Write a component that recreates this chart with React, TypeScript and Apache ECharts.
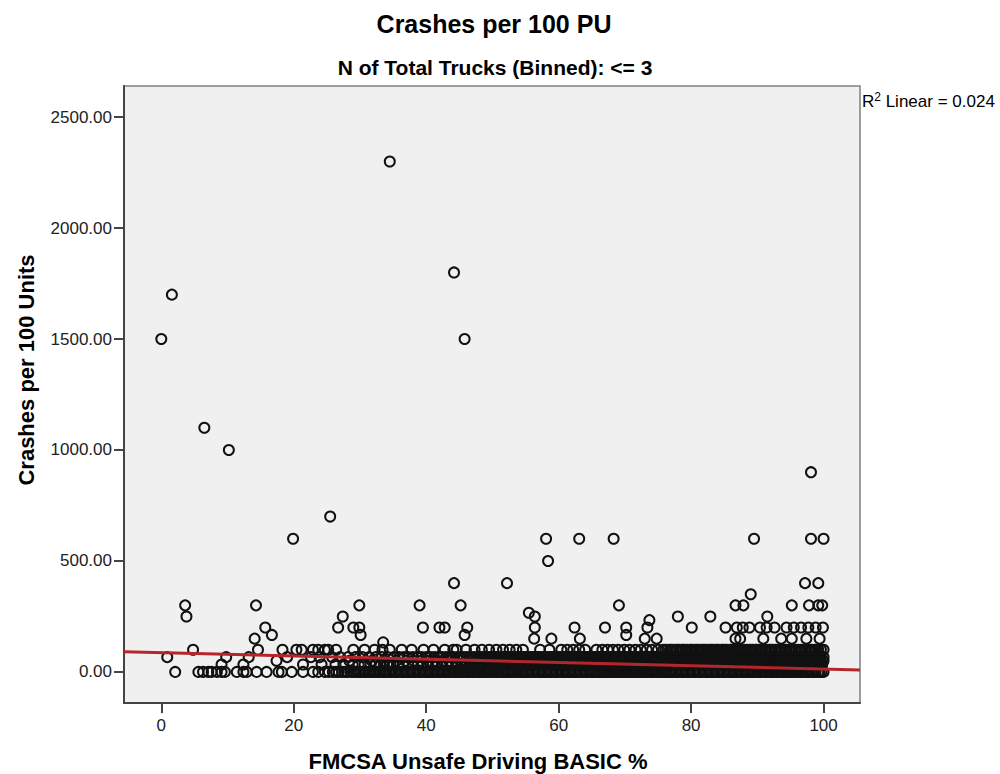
import React, { useEffect, useRef } from "react";
import * as echarts from "echarts";

// ---- Data ----
const xTicks = [0, 20, 40, 60, 80, 100];
const yTicks = [0, 500, 1000, 1500, 2000, 2500];
const X_MIN = -5.63;
const X_MAX = 105.5;
const Y_MIN = -140;
const Y_MAX = 2640;

// Crash rates with three trucks or fewer take a small set of discrete values
const bandLevels = [0, 33.33, 50, 66.67, 100];

const band0X = [
  2.1, 5.6, 6.3, 7.1, 7.6, 8.4, 9.1, 9.6, 11.4, 12.4, 12.9, 14.4, 15.9, 17.7, 18.2, 19.7, 21.4, 22.9, 23.7, 24.7, 25.3, 25.9,
  26.4, 26.8, 27.3, 27.7, 28.1, 28.6, 29.0, 29.4, 29.8,
  30.1, 30.5, 30.7, 31.0, 31.4, 31.6, 31.9, 32.3, 32.5, 32.8,
  33.1, 33.5, 33.7, 34.0, 34.4, 34.6, 34.9, 35.3, 35.5, 35.8,
  36.2, 36.4, 36.7, 37.1, 37.3, 37.6, 38.0, 38.2, 38.5, 38.9,
  39.1, 39.4, 39.8, 40.0, 40.3, 40.7, 40.9, 41.2, 41.6, 41.8,
  42.1, 42.5, 42.7, 43.0, 43.4, 43.6, 43.9, 44.3, 44.5, 44.8,
  45.2, 45.4, 45.7, 46.1, 46.3, 46.6, 47.0, 47.2, 47.5, 47.9,
  48.1, 48.4, 48.8, 49.0, 49.3, 49.7, 49.9, 50.2, 50.6, 50.8,
  51.1, 51.5, 51.7, 52.0, 52.4, 52.6, 52.9, 53.3, 53.5, 53.8,
  54.2, 54.4, 54.7, 55.1, 55.3, 55.6, 56.0, 56.2, 56.5, 56.9,
  57.1, 57.4, 57.8, 58.0, 58.3, 58.7, 58.9, 59.2, 59.6, 59.8,
  60.1, 60.5, 60.7, 61.0, 61.4, 61.6, 61.9, 62.3, 62.5, 62.8,
  63.2, 63.4, 63.7, 64.1, 64.3, 64.6, 65.0, 65.2, 65.5, 65.9,
  66.1, 66.4, 66.8, 67.0, 67.3, 67.7, 67.9, 68.2, 68.6, 68.8,
  69.1, 69.5, 69.7, 70.0, 70.4, 70.6, 70.9, 71.3, 71.5, 71.8,
  72.2, 72.4, 72.7, 73.1, 73.3, 73.6, 74.0, 74.2, 74.5, 74.9,
  75.1, 75.4, 75.8, 76.0, 76.3, 76.7, 76.9, 77.2, 77.6, 77.8,
  78.1, 78.5, 78.7, 79.0, 79.4, 79.6, 79.9, 80.3, 80.5, 80.8,
  81.2, 81.4, 81.7, 82.1, 82.3, 82.6, 83.0, 83.2, 83.5, 83.9,
  84.1, 84.4, 84.8, 85.0, 85.3, 85.7, 85.9, 86.2, 86.6, 86.8,
  87.1, 87.5, 87.7, 88.0, 88.4, 88.6, 88.9, 89.3, 89.5, 89.8,
  90.2, 90.4, 90.7, 91.1, 91.3, 91.6, 92.0, 92.2, 92.5, 92.9,
  93.1, 93.4, 93.8, 94.0, 94.3, 94.7, 94.9, 95.2, 95.6, 95.8,
  96.1, 96.5, 96.7, 97.0, 97.4, 97.6, 97.9, 98.3, 98.5, 98.8,
  99.2, 99.4, 99.7, 100,
];

const band33X = [
  9.1, 12.4, 21.4, 24.2, 26.3, 27.5, 28.9, 29.8, 30.7, 31.6, 32.4, 33.0, 33.6, 34.1, 34.6, 35.0, 35.8, 36.5, 37.3, 38.0,
  38.7, 39.5, 40.2, 40.9, 41.7, 42.4, 43.1, 43.9, 44.6, 45.3, 46.0, 46.6, 47.2, 47.8,
  48.2, 48.5, 48.8, 49.2, 49.4, 49.7, 50.1, 50.3, 50.6, 51.0,
  51.2, 51.5, 51.8, 52.2, 52.4, 52.7, 53.1, 53.3, 53.6, 54.0,
  54.2, 54.5, 54.8, 55.2, 55.4, 55.7, 56.1, 56.3, 56.6, 57.0,
  57.2, 57.5, 57.8, 58.2, 58.4, 58.7, 59.1, 59.3, 59.6, 60.0,
  60.2, 60.5, 60.8, 61.2, 61.4, 61.7, 62.1, 62.3, 62.6, 63.0,
  63.2, 63.5, 63.8, 64.2, 64.4, 64.7, 65.1, 65.3, 65.6, 66.0,
  66.2, 66.5, 66.8, 67.2, 67.4, 67.7, 68.1, 68.3, 68.6, 69.0,
  69.2, 69.5, 69.8, 70.2, 70.4, 70.7, 71.1, 71.3, 71.6, 72.0,
  72.2, 72.5, 72.8, 73.2, 73.4, 73.7, 74.1, 74.3, 74.6, 75.0,
  75.2, 75.5, 75.8, 76.2, 76.4, 76.7, 77.1, 77.3, 77.6, 78.0,
  78.2, 78.5, 78.8, 79.2, 79.4, 79.7, 80.1, 80.3, 80.6, 81.0,
  81.2, 81.5, 81.8, 82.2, 82.4, 82.7, 83.1, 83.3, 83.6, 84.0,
  84.2, 84.5, 84.8, 85.2, 85.4, 85.7, 86.1, 86.3, 86.6, 87.0,
  87.2, 87.5, 87.8, 88.2, 88.4, 88.7, 89.1, 89.3, 89.6, 90.0,
  90.2, 90.5, 90.8, 91.2, 91.4, 91.7, 92.1, 92.3, 92.6, 93.0,
  93.2, 93.5, 93.8, 94.2, 94.4, 94.7, 95.1, 95.3, 95.6, 96.0,
  96.2, 96.5, 96.8, 97.2, 97.4, 97.7, 98.1, 98.3, 98.6, 99.0,
  99.2, 99.5, 99.8,
];

const band50X = [
  17.4, 28.4, 31.8, 33.7, 35.5, 36.9, 38.1, 39.2, 40.3, 41.4, 42.5, 43.5, 44.4, 45.2, 46.0, 46.8, 47.5, 48.2, 48.9, 49.5,
  50.1, 50.7, 51.3,
  51.6, 52.0, 52.3, 52.7, 53.0, 53.4, 53.7, 54.1, 54.4, 54.8,
  55.1, 55.5, 55.8, 56.2, 56.5, 56.9, 57.2, 57.6, 57.9, 58.3,
  58.6, 59.0, 59.3, 59.7, 60.0, 60.4, 60.7, 61.1, 61.4, 61.8,
  62.1, 62.5, 62.8, 63.2, 63.5, 63.9, 64.2, 64.6, 64.9, 65.3,
  65.6, 66.0, 66.3, 66.7, 67.0, 67.4, 67.7, 68.1, 68.4, 68.8,
  69.1, 69.5, 69.8, 70.2, 70.5, 70.9, 71.2, 71.6, 71.9, 72.3,
  72.6, 73.0, 73.3, 73.7, 74.0, 74.4, 74.7, 75.1, 75.4, 75.8,
  76.1, 76.5, 76.8, 77.2, 77.5, 77.9, 78.2, 78.6, 78.9, 79.3,
  79.6, 80.0, 80.3, 80.7, 81.0, 81.4, 81.7, 82.1, 82.4, 82.8,
  83.1, 83.5, 83.8, 84.2, 84.5, 84.9, 85.2, 85.6, 85.9, 86.3,
  86.6, 87.0, 87.3, 87.7, 88.0, 88.4, 88.7, 89.1, 89.4, 89.8,
  90.1, 90.5, 90.8, 91.2, 91.5, 91.9, 92.2, 92.6, 92.9, 93.3,
  93.6, 94.0, 94.3, 94.7, 95.0, 95.4, 95.7, 96.1, 96.4, 96.8,
  97.1, 97.5, 97.8, 98.2, 98.5, 98.9, 99.2, 99.6, 100,
];

const band67X = [
  0.9, 9.8, 13.2, 19.0, 22.6, 23.9, 25.8, 27.0, 28.2, 29.3, 30.4, 31.4, 32.4, 33.3, 34.2, 35.1, 35.9, 36.6, 37.3, 38.0,
  38.7, 39.3, 40.0, 40.6, 41.2, 41.8, 42.4, 43.0, 43.6, 44.1, 44.7, 45.2, 45.7, 46.2, 46.7, 47.2, 47.7,
  48.0, 48.3, 48.7, 48.9, 49.2, 49.6, 49.8, 50.1, 50.5, 50.7,
  51.0, 51.3, 51.7, 51.9, 52.2, 52.6, 52.8, 53.1, 53.5, 53.7,
  54.0, 54.3, 54.7, 54.9, 55.2, 55.6, 55.8, 56.1, 56.5, 56.7,
  57.0, 57.3, 57.7, 57.9, 58.2, 58.6, 58.8, 59.1, 59.5, 59.7,
  60.0, 60.3, 60.7, 60.9, 61.2, 61.6, 61.8, 62.1, 62.5, 62.7,
  63.0, 63.3, 63.7, 63.9, 64.2, 64.6, 64.8, 65.1, 65.5, 65.7,
  66.0, 66.3, 66.7, 66.9, 67.2, 67.6, 67.8, 68.1, 68.5, 68.7,
  69.0, 69.3, 69.7, 69.9, 70.2, 70.6, 70.8, 71.1, 71.5, 71.7,
  72.0, 72.3, 72.7, 72.9, 73.2, 73.6, 73.8, 74.1, 74.5, 74.7,
  75.0, 75.3, 75.7, 75.9, 76.2, 76.6, 76.8, 77.1, 77.5, 77.7,
  78.0, 78.3, 78.7, 78.9, 79.2, 79.6, 79.8, 80.1, 80.5, 80.7,
  81.0, 81.3, 81.7, 81.9, 82.2, 82.6, 82.8, 83.1, 83.5, 83.7,
  84.0, 84.3, 84.7, 84.9, 85.2, 85.6, 85.8, 86.1, 86.5, 86.7,
  87.0, 87.3, 87.7, 87.9, 88.2, 88.6, 88.8, 89.1, 89.5, 89.7,
  90.0, 90.3, 90.7, 90.9, 91.2, 91.6, 91.8, 92.1, 92.5, 92.7,
  93.0, 93.3, 93.7, 93.9, 94.2, 94.6, 94.8, 95.1, 95.5, 95.7,
  96.0, 96.3, 96.7, 96.9, 97.2, 97.6, 97.8, 98.1, 98.5, 98.7,
  99.0, 99.3, 99.6, 100,
];

const band100X = [
  4.8, 14.6, 18.3, 20.4, 21.2, 22.9, 23.7, 24.7, 25.2, 26.4, 29.0, 30.7, 32.2, 33.4, 34.5, 36.3, 37.8, 39.6, 41.1, 42.8,
  44.1, 44.6, 46.0, 47.3, 48.4, 49.5, 50.6, 51.6, 52.6, 53.6, 54.6, 57.2, 58.6, 60.4, 61.3, 62.2, 63.1, 64.0, 65.7, 66.6,
  67.4, 68.2, 69.0, 69.9, 70.7, 71.6, 72.4, 73.3, 74.1, 75.0, 75.8,
  76.1, 76.4, 76.8, 77.0, 77.3, 77.7, 77.9, 78.2, 78.6, 78.8,
  79.1, 79.4, 79.8, 80.0, 80.3, 80.7, 80.9, 81.2, 81.6, 81.8,
  82.1, 82.4, 82.8, 83.0, 83.3, 83.7, 83.9, 84.2, 84.6, 84.8,
  85.1, 85.4, 85.8, 86.0, 86.3, 86.7, 86.9, 87.2, 87.6, 87.8,
  88.1, 88.4, 88.8, 89.0, 89.3, 89.7, 89.9, 90.2, 90.6, 90.8,
  91.1, 91.4, 91.8, 92.0, 92.3, 92.7, 92.9, 93.2, 93.6, 93.8,
  94.1, 94.4, 94.8, 95.0, 95.3, 95.7, 95.9, 96.2, 96.6, 96.8,
  97.1, 97.4, 97.8, 98.0, 98.3, 98.7, 98.9, 99.2, 99.6, 100,
];

// Points above the dense band (x = BASIC %, y = crashes per 100 units)
const outlierX = [
  0, 1.6, 34.5, 44.2, 45.8, 6.5, 10.2, 19.9, 25.5, 58.1, 63.1, 68.3, 89.5, 98.1, 100, 98.1, 58.4, 44.2, 52.2, 97.2, 99.2, 89.0,
  3.6, 14.3, 29.9, 39.0, 45.2, 69.1, 86.7, 87.9, 95.2, 97.8, 99.2, 99.8,
  55.5,
  3.8, 27.4, 56.4, 78.0, 82.9, 91.5,
  73.7,
  15.7, 26.7, 29.0, 29.9, 39.5, 42.0, 42.8, 46.2, 56.4, 62.4, 67.0, 70.2, 73.4, 80.1, 85.2, 86.9, 87.8, 88.8, 90.4, 91.4,
  92.6, 94.4, 95.5, 96.6, 97.7, 98.8, 99.9,
  16.7, 30.1, 45.8, 70.2,
  14.1, 56.3, 58.9, 63.2, 73.0, 74.8, 86.7, 87.4, 90.9, 93.6, 95.2, 97.4, 99.4,
  33.5,
];
const outlierY = [
  1500, 1700, 2300, 1800, 1500, 1100, 1000, 600, 700, 600, 600, 600, 600, 600, 600, 900, 500, 400, 400, 400, 400, 350,
  300, 300, 300, 300, 300, 300, 300, 300, 300, 300, 300, 300,
  266.67,
  250, 250, 250, 250, 250, 250,
  233.33,
  200, 200, 200, 200, 200, 200, 200, 200, 200, 200, 200, 200, 200, 200, 200, 200, 200, 200, 200, 200,
  200, 200, 200, 200, 200, 200, 200,
  166.67, 166.67, 166.67, 166.67,
  150, 150, 150, 150, 150, 150, 150, 150, 150, 150, 150, 150, 150,
  133.33,
];

// Linear fit (R² = 0.024)
const fitIntercept = 86.9;
const fitSlope = -0.738;
const rSquared = "0.024";

const FONT = '"Liberation Sans", Arial, Helvetica, sans-serif';

export default function App() {
  const ref = useRef<HTMLDivElement>(null);

  useEffect(() => {
    if (!ref.current) return;
    const chart = echarts.init(ref.current, undefined, { renderer: "svg" });

    const bands = [band0X, band33X, band50X, band67X, band100X];
    const points: number[][] = [];
    bands.forEach((xs, i) => xs.forEach((x) => points.push([x, bandLevels[i]])));
    outlierX.forEach((x, i) => points.push([x, outlierY[i]]));

    const fitLine = [
      [X_MIN, fitIntercept + fitSlope * X_MIN],
      [X_MAX, fitIntercept + fitSlope * X_MAX],
    ];

    chart.setOption({
      animation: false,
      backgroundColor: "#ffffff",
      grid: {
        left: 124,
        top: 86,
        width: 736,
        height: 617,
        show: true,
        backgroundColor: "#f0f0f0",
        borderColor: "#808080",
        borderWidth: 1.5,
      },
      xAxis: {
        type: "value",
        min: X_MIN,
        max: X_MAX,
        axisLine: { show: true, onZero: false, lineStyle: { color: "#444", width: 2 } },
        axisTick: { show: true, length: 10, lineStyle: { color: "#444", width: 2 }, customValues: xTicks },
        axisLabel: { customValues: xTicks, margin: 14, fontSize: 17, color: "#222", fontFamily: FONT },
        splitLine: { show: false },
      },
      yAxis: {
        type: "value",
        min: Y_MIN,
        max: Y_MAX,
        axisLine: { show: true, onZero: false, lineStyle: { color: "#444", width: 2 } },
        axisTick: { show: true, length: 10, lineStyle: { color: "#444", width: 2 }, customValues: yTicks },
        axisLabel: {
          customValues: yTicks,
          margin: 12,
          fontSize: 17,
          color: "#222",
          fontFamily: FONT,
          formatter: (v: number) => v.toFixed(2),
        },
        splitLine: { show: false },
      },
      series: [
        {
          type: "scatter",
          data: points,
          symbol: "circle",
          symbolSize: 10,
          itemStyle: { color: "rgba(0,0,0,0)", borderColor: "#111", borderWidth: 2, opacity: 1 },
          silent: true,
          progressive: 0,
          z: 2,
        },
        {
          type: "line",
          data: fitLine,
          symbol: "none",
          lineStyle: { color: "#b5262c", width: 3 },
          silent: true,
          z: 3,
        },
      ],
      graphic: [
        {
          type: "text",
          x: 494,
          y: 24,
          style: {
            text: "Crashes per 100 PU",
            font: `bold 25px ${FONT}`,
            fill: "#000",
            align: "center",
            verticalAlign: "middle",
            textAlign: "center",
            textVerticalAlign: "middle",
          },
        },
        {
          type: "text",
          x: 495,
          y: 67,
          style: {
            text: "N of Total Trucks (Binned): <= 3",
            font: `bold 21px ${FONT}`,
            fill: "#000",
            align: "center",
            verticalAlign: "middle",
            textAlign: "center",
            textVerticalAlign: "middle",
          },
        },
        {
          type: "text",
          x: 26,
          y: 370,
          rotation: Math.PI / 2,
          style: {
            text: "Crashes per 100 Units",
            font: `bold 22px ${FONT}`,
            fill: "#000",
            align: "center",
            verticalAlign: "middle",
            textAlign: "center",
            textVerticalAlign: "middle",
          },
        },
        {
          type: "text",
          x: 478,
          y: 761,
          style: {
            text: "FMCSA Unsafe Driving BASIC %",
            font: `bold 22px ${FONT}`,
            fill: "#000",
            align: "center",
            verticalAlign: "middle",
            textAlign: "center",
            textVerticalAlign: "middle",
          },
        },
        {
          type: "text",
          x: 862,
          y: 101,
          style: {
            text: `{b|R}{s|2}{b| Linear = ${rSquared}}`,
            fill: "#000",
            align: "left",
            verticalAlign: "middle",
            textAlign: "left",
            textVerticalAlign: "middle",
            rich: {
              b: { fontSize: 17, fontFamily: FONT, fill: "#000" },
              s: { fontSize: 12, fontFamily: FONT, fill: "#000", padding: [0, 0, 8, 0] },
            },
          },
        },
      ],
    });

    return () => chart.dispose();
  }, []);

  return (
    <div
      ref={ref}
      style={{ position: "absolute", left: 0, top: 0, width: 1000, height: 774 }}
    />
  );
}
